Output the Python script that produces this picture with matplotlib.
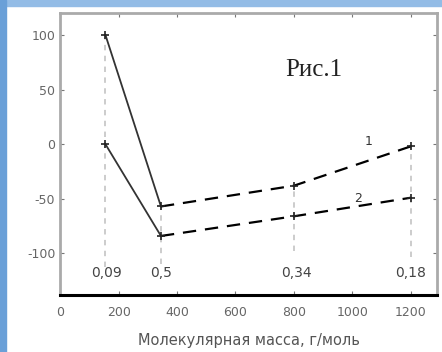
import matplotlib.pyplot as plt
from matplotlib.patches import Rectangle

plt.rcParams['axes.unicode_minus'] = False

# data
mass = [155, 345, 800, 1200]
curve1 = [100, -57, -38, -2]
curve2 = [0, -84, -66, -49]
point_labels = ['0,09', '0,5', '0,34', '0,18']
label_x = [160, 345, 810, 1200]
xticks = [0, 200, 400, 600, 800, 1000, 1200]
yticks = [-100, -50, 0, 50, 100]

fig = plt.figure(figsize=(4.42, 3.52), dpi=100)
fig.patch.set_facecolor('white')
# blue frame of the scanned page
fig.patches.append(Rectangle((0, 0.982), 1, 0.018, transform=fig.transFigure, color='#93bce6', zorder=0))
fig.patches.append(Rectangle((0, 0), 0.014, 1, transform=fig.transFigure, color='#6aa0d8', zorder=0))

ax = fig.add_axes([0.136, 0.162, 0.853, 0.801])

# gray drop lines
ax.vlines(mass[0], -112, curve1[0], colors='#c8c8c8', linestyles=(0, (3, 3)), lw=1.3)
ax.vlines(mass[1], -110, curve1[1], colors='#c8c8c8', linestyles=(0, (3, 3)), lw=1.3)
ax.vlines(mass[2], -98, curve1[2], colors='#c8c8c8', linestyles=(0, (3, 3)), lw=1.3)
ax.vlines(mass[3], -103, curve1[3], colors='#c8c8c8', linestyles=(0, (3, 3)), lw=1.3)

for y in (curve1, curve2):
    ax.plot(mass[:2], y[:2], color='#333333', lw=1.3)
    ax.plot(mass[1:], y[1:], color='black', lw=1.6, dashes=(6, 4))
    ax.plot(mass, y, ls='none', marker='+', ms=6, mew=1.2, color='#222222')

ax.text(1056, 2, '1', fontsize=9, color='#333333', ha='center', va='center')
ax.text(1019, -50, '2', fontsize=9, color='#333333', ha='center', va='center')

for lx, lab in zip(label_x, point_labels):
    ax.text(lx, -118, lab, fontsize=10, color='#444444', ha='center', va='center')

ax.text(868, 68, 'Рис.1', fontsize=18, family='Liberation Serif', color='#222222',
        ha='center', va='center')

ax.set_xlim(0, 1290)
ax.set_ylim(-138, 120)
ax.set_xticks(xticks)
ax.set_yticks(yticks)
ax.tick_params(direction='in', length=3, colors='#777777', labelcolor='#666666',
               labelsize=9, top=True, right=True)
ax.tick_params(axis='x', pad=8)
for s in ('left', 'top', 'right'):
    ax.spines[s].set_color('#aaaaaa')
    ax.spines[s].set_linewidth(2)
ax.spines['bottom'].set_color('black')
ax.spines['bottom'].set_linewidth(2.2)

ax.set_xlabel('Молекулярная масса, г/моль', fontsize=10.5, color='#555555', labelpad=10)

fig.savefig('out.png', dpi=100)
